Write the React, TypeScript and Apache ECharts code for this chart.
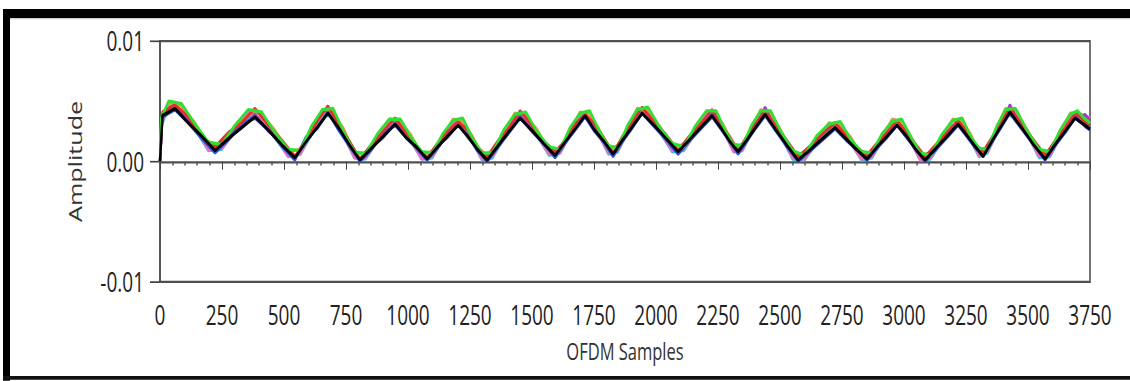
import React, { useEffect, useRef } from "react";
import * as echarts from "echarts";

// Sample positions (OFDM sample index) for the first group of traces
const sampleGridA = [
  0, 10, 60, 114, 168, 222, 276, 329, 383, 437,
  490, 544, 588, 633, 677, 720, 763, 806, 853, 901,
  948, 991, 1034, 1077, 1119, 1160, 1202, 1241, 1280, 1319,
  1363, 1408, 1452, 1499, 1546, 1593, 1633, 1674, 1714, 1752,
  1789, 1827, 1866, 1905, 1944, 1992, 2041, 2089, 2135, 2180,
  2226, 2261, 2296, 2331, 2367, 2404, 2440, 2484, 2529, 2573,
  2623, 2672, 2722, 2765, 2808, 2851, 2891, 2932, 2972, 3010,
  3047, 3085, 3129, 3174, 3218, 3252, 3285, 3319, 3355, 3391,
  3427, 3474, 3522, 3569, 3609, 3650, 3690, 3710, 3730, 3750,
];

// Sample positions for the second group of traces
const sampleGridB = [
  0, 5, 35, 87, 141, 195, 249, 302, 356, 410,
  463, 517, 566, 610, 655, 698, 741, 784, 829, 877,
  924, 970, 1012, 1055, 1098, 1140, 1181, 1221, 1260, 1299,
  1341, 1385, 1430, 1475, 1522, 1569, 1613, 1653, 1694, 1733,
  1770, 1808, 1846, 1885, 1924, 1968, 2016, 2065, 2112, 2157,
  2203, 2243, 2278, 2313, 2349, 2385, 2422, 2462, 2506, 2551,
  2598, 2647, 2697, 2743, 2786, 2829, 2871, 2911, 2952, 2991,
  3028, 3066, 3107, 3151, 3196, 3235, 3268, 3302, 3337, 3373,
  3409, 3450, 3498, 3545, 3589, 3629, 3670, 3700, 3725, 3750,
];

// Trace amplitudes, in units of 1e-3
const orangeTrace = [
  0.0, 3.3, 4.9, 4.6, 3.2, 1.4, 1.5, 2.7, 4.2, 3.9,
  2.6, 0.8, 1.0, 2.6, 4.3, 4.1, 2.7, 0.7, 0.7, 2.0,
  3.5, 3.3, 2.2, 0.6, 0.8, 2.0, 3.5, 3.3, 2.1, 0.5,
  0.8, 2.3, 4.0, 3.8, 2.6, 0.9, 1.1, 2.5, 4.1, 3.9,
  2.7, 1.0, 1.3, 2.7, 4.4, 4.2, 2.9, 1.2, 1.4, 2.7,
  4.1, 4.0, 2.8, 1.2, 1.4, 2.7, 4.3, 3.9, 2.5, 0.6,
  0.6, 1.8, 3.2, 3.0, 2.0, 0.5, 0.8, 2.0, 3.5, 3.3,
  2.1, 0.5, 0.7, 2.0, 3.5, 3.3, 2.3, 0.8, 1.2, 2.7,
  4.4, 4.1, 2.6, 0.7, 0.9, 2.3, 4.0, 4.0, 3.7, 3.1,
];
const cyanTrace = [
  0.0, 2.9, 4.5, 4.1, 2.7, 0.9, 1.0, 2.5, 3.7, 3.5,
  2.0, 0.4, 0.6, 2.2, 3.9, 3.7, 2.1, 0.3, 0.2, 1.7,
  3.0, 2.9, 1.7, 0.2, 0.3, 1.8, 3.0, 2.9, 1.6, 0.1,
  0.3, 1.9, 3.5, 3.5, 2.1, 0.5, 0.7, 2.2, 3.7, 3.5,
  2.2, 0.6, 0.8, 2.4, 3.9, 3.9, 2.4, 0.8, 0.9, 2.3,
  3.7, 3.6, 2.3, 0.8, 0.9, 2.4, 3.8, 3.6, 2.0, 0.2,
  0.1, 1.5, 2.7, 2.7, 1.5, 0.1, 0.3, 1.7, 3.0, 2.9,
  1.6, 0.1, 0.2, 1.6, 3.0, 2.9, 1.8, 0.4, 0.7, 2.3,
  3.9, 3.7, 2.2, 0.3, 0.4, 2.0, 3.5, 3.6, 3.2, 2.8,
];
const pinkTrace = [
  0.0, 3.1, 4.6, 4.3, 2.7, 1.0, 1.1, 2.4, 4.1, 3.5,
  2.1, 0.4, 0.6, 2.5, 4.3, 3.8, 2.1, 0.3, 0.3, 1.7,
  3.3, 2.9, 1.7, 0.2, 0.4, 1.7, 3.3, 2.9, 1.6, 0.2,
  0.4, 2.0, 3.8, 3.5, 2.1, 0.6, 0.7, 2.2, 4.0, 3.6,
  2.2, 0.7, 0.9, 2.4, 4.2, 3.9, 2.5, 0.9, 1.0, 2.3,
  4.0, 3.6, 2.3, 0.8, 1.0, 2.4, 4.2, 3.6, 2.0, 0.3,
  0.2, 1.5, 3.1, 2.7, 1.5, 0.2, 0.4, 1.7, 3.4, 2.9,
  1.6, 0.1, 0.3, 1.6, 3.4, 3.0, 1.8, 0.5, 0.8, 2.4,
  4.3, 3.8, 2.2, 0.4, 0.5, 2.0, 3.8, 4.0, 3.8, 3.6,
];
const purpleTrace = [
  0.0, 3.8, 4.5, 3.4, 2.0, 0.8, 2.2, 2.8, 3.9, 2.5,
  1.6, 0.2, 1.7, 2.8, 4.1, 2.9, 1.4, 0.1, 1.2, 2.0,
  3.2, 2.1, 1.2, 0.2, 1.3, 2.0, 3.1, 2.0, 1.1, 0.1,
  1.3, 2.5, 3.8, 2.6, 1.6, 0.4, 1.7, 2.7, 3.9, 2.7,
  1.8, 0.5, 1.9, 2.9, 4.1, 3.0, 1.9, 0.7, 1.9, 2.8,
  4.0, 2.8, 1.9, 0.8, 1.9, 2.9, 4.5, 2.6, 1.4, 0.1,
  1.1, 1.9, 2.8, 1.9, 1.1, 0.2, 1.2, 2.1, 3.2, 2.0,
  1.1, 0.0, 1.2, 2.1, 3.1, 2.2, 1.4, 0.5, 1.7, 2.9,
  4.7, 2.8, 1.5, 0.2, 1.4, 2.5, 3.7, 3.6, 3.9, 3.4,
];
const blueTrace = [
  0.0, 3.7, 4.3, 3.2, 1.9, 0.7, 1.8, 3.1, 3.6, 2.6,
  1.3, 0.1, 2.0, 2.7, 4.1, 2.6, 1.3, 0.0, 1.0, 2.3,
  3.0, 2.0, 1.1, 0.1, 1.1, 2.3, 3.1, 2.1, 0.9, 0.0,
  1.2, 2.4, 3.6, 2.5, 1.5, 0.3, 1.5, 2.6, 3.7, 2.5,
  1.6, 0.4, 1.7, 2.8, 4.0, 2.9, 1.8, 0.6, 1.7, 2.7,
  3.7, 2.7, 1.7, 0.6, 1.7, 2.8, 3.8, 2.5, 1.2, 0.0,
  0.9, 1.8, 2.7, 1.8, 1.0, 0.1, 1.1, 2.0, 3.0, 2.0,
  1.0, 0.0, 1.0, 2.0, 3.0, 2.1, 1.2, 0.4, 1.6, 2.8,
  4.0, 2.7, 1.4, 0.1, 1.3, 2.4, 3.6, 3.3, 2.9, 2.6,
];
const redTrace = [
  0.0, 4.1, 4.7, 3.7, 2.1, 1.2, 2.4, 3.2, 4.4, 3.0,
  1.8, 0.4, 1.7, 3.3, 4.6, 3.1, 1.7, 0.2, 1.4, 2.5,
  3.6, 2.4, 1.3, 0.3, 1.5, 2.5, 3.3, 2.6, 1.2, 0.4,
  1.7, 2.8, 4.2, 3.0, 1.7, 0.8, 1.7, 3.1, 3.9, 3.1,
  2.0, 0.7, 2.1, 3.3, 4.5, 3.3, 2.2, 0.9, 2.1, 3.1,
  4.3, 3.1, 2.1, 0.9, 2.1, 3.2, 4.2, 2.9, 1.7, 0.4,
  1.3, 2.3, 3.2, 2.2, 1.2, 0.5, 1.5, 2.4, 3.4, 2.4,
  1.4, 0.4, 1.4, 2.4, 3.4, 2.5, 1.5, 0.8, 2.0, 3.2,
  4.4, 3.1, 1.8, 0.5, 1.7, 2.8, 4.0, 3.7, 3.3, 3.0,
];
const greenTrace = [
  0.0, 3.6, 5.0, 4.8, 3.1, 1.6, 1.4, 3.0, 4.3, 4.1,
  2.4, 1.0, 0.9, 2.9, 4.3, 4.4, 2.4, 0.8, 0.6, 2.3,
  3.5, 3.5, 2.0, 0.8, 0.7, 2.3, 3.4, 3.6, 1.9, 0.7,
  0.7, 2.6, 3.9, 4.1, 2.4, 1.2, 1.0, 2.8, 4.0, 4.2,
  2.6, 1.3, 1.1, 3.0, 4.3, 4.5, 2.8, 1.5, 1.2, 2.9,
  4.2, 4.2, 2.6, 1.4, 1.3, 3.0, 4.2, 4.2, 2.4, 0.9,
  0.5, 2.1, 3.1, 3.3, 1.8, 0.8, 0.7, 2.3, 3.3, 3.5,
  2.0, 0.7, 0.5, 2.2, 3.4, 3.6, 2.1, 1.1, 1.0, 2.9,
  4.3, 4.4, 2.5, 1.0, 0.8, 2.6, 3.9, 4.2, 3.6, 3.2,
];
const blackTrace = [
  0.0, 3.8, 4.4, 3.2, 2.1, 0.9, 1.9, 2.8, 3.7, 2.6,
  1.4, 0.3, 1.6, 2.8, 4.0, 2.8, 1.4, 0.1, 1.1, 2.1,
  3.1, 2.0, 1.2, 0.2, 1.2, 2.1, 3.0, 2.1, 1.0, 0.1,
  1.3, 2.5, 3.6, 2.6, 1.5, 0.5, 1.6, 2.7, 3.8, 2.6,
  1.7, 0.6, 1.8, 2.9, 4.0, 3.0, 1.9, 0.8, 1.8, 2.8,
  3.8, 2.8, 1.7, 0.8, 1.8, 2.9, 3.9, 2.6, 1.3, 0.1,
  1.0, 1.9, 2.8, 1.9, 1.0, 0.2, 1.2, 2.1, 3.0, 2.1,
  1.0, 0.1, 1.1, 2.1, 3.1, 2.2, 1.3, 0.4, 1.7, 2.9,
  4.1, 2.8, 1.4, 0.2, 1.4, 2.5, 3.6, 3.3, 3.0, 2.7,
];

const traces = [
  { name: "Trace 1", color: "#e0a050", grid: sampleGridB, values: orangeTrace },
  { name: "Trace 2", color: "#30c8d8", grid: sampleGridB, values: cyanTrace },
  { name: "Trace 3", color: "#f070b8", grid: sampleGridB, values: pinkTrace },
  { name: "Trace 4", color: "#9a40c8", grid: sampleGridA, values: purpleTrace },
  { name: "Trace 5", color: "#3050e0", grid: sampleGridA, values: blueTrace },
  { name: "Trace 6", color: "#e03030", grid: sampleGridA, values: redTrace },
  { name: "Trace 7", color: "#30e030", grid: sampleGridB, values: greenTrace },
  { name: "Trace 8", color: "#000000", grid: sampleGridA, values: blackTrace },
];

const yTicks = [-0.01, 0, 0.01];

// The panel is laid out at a reduced height and stretched vertically,
// which gives the tall, narrow lettering of the instrument display.
const STRETCH = 1.4;
const PANEL_W = 1130;
const PANEL_H = 381 / STRETCH;

const labelFont = "'Open Sans', 'Noto Sans', sans-serif";

export default function App() {
  const ref = useRef<HTMLDivElement>(null);

  useEffect(() => {
    if (!ref.current) return;
    const chart = echarts.init(ref.current, null, { renderer: "svg" });
    chart.setOption({
      animation: false,
      backgroundColor: "#ffffff",
      grid: {
        left: 160,
        top: 29.3,
        right: 40,
        bottom: PANEL_H - 201.4,
        show: true,
        borderColor: "#505050",
        borderWidth: 1.6,
      },
      xAxis: {
        type: "value",
        min: 0,
        max: 3750,
        interval: 250,
        name: "OFDM Samples",
        nameLocation: "middle",
        nameGap: 41,
        nameTextStyle: { fontFamily: labelFont, fontSize: 16.5, color: "#333" },
        axisLine: { show: true, lineStyle: { color: "#505050", width: 1.6 } },
        axisTick: { show: true, inside: false, length: 6, lineStyle: { color: "#444", width: 1 } },
        minorTick: { show: true, splitNumber: 5, length: 3, lineStyle: { color: "#555", width: 1.5 } },
        splitLine: { show: false },
        axisLabel: {
          margin: 14,
          fontFamily: labelFont,
          fontSize: 19,
          color: "#222",
          formatter: (v: number) => String(v),
        },
      },
      yAxis: {
        type: "value",
        min: yTicks[0],
        max: yTicks[yTicks.length - 1],
        interval: 0.01,
        name: "Amplitude",
        nameLocation: "middle",
        nameRotate: 90,
        nameGap: 76,
        nameTextStyle: { fontFamily: labelFont, fontSize: 18, color: "#333" },
        axisLine: { show: true, lineStyle: { color: "#505050", width: 1.6 } },
        axisTick: { show: true, inside: false, length: 10, lineStyle: { color: "#444", width: 1.2 } },
        splitLine: { show: false },
        axisLabel: {
          margin: 16,
          fontFamily: labelFont,
          fontSize: 19,
          color: "#222",
          formatter: (v: number) => v.toFixed(2),
        },
      },
      series: traces.map((t) => ({
        name: t.name,
        type: "line",
        showSymbol: false,
        symbol: "none",
        lineStyle: { color: t.color, width: 2.4 },
        itemStyle: { color: t.color },
        data: t.grid.map((s, i) => [s, t.values[i] / 1000]),
      })),
      graphic: [
        // outer black frame: thick top bar, left bar, thin bottom line
        { type: "rect", shape: { x: 3, y: 6.4, width: 1127, height: 6.5 }, style: { fill: "#000" } },
        { type: "rect", shape: { x: 3, y: 12.9, width: 1127, height: 0.8 }, style: { fill: "#c8c8c8" } },
        { type: "rect", shape: { x: 3, y: 6.4, width: 7, height: PANEL_H - 6.4 }, style: { fill: "#000" } },
        { type: "rect", shape: { x: 3, y: 268.6, width: 1127, height: 2.6 }, style: { fill: "#111" } },
      ],
    });
    return () => chart.dispose();
  }, []);

  return (
    <div
      ref={ref}
      style={{
        position: "fixed",
        left: 0,
        top: 0,
        width: PANEL_W,
        height: PANEL_H,
        transform: `scaleY(${STRETCH})`,
        transformOrigin: "top left",
      }}
    />
  );
}
